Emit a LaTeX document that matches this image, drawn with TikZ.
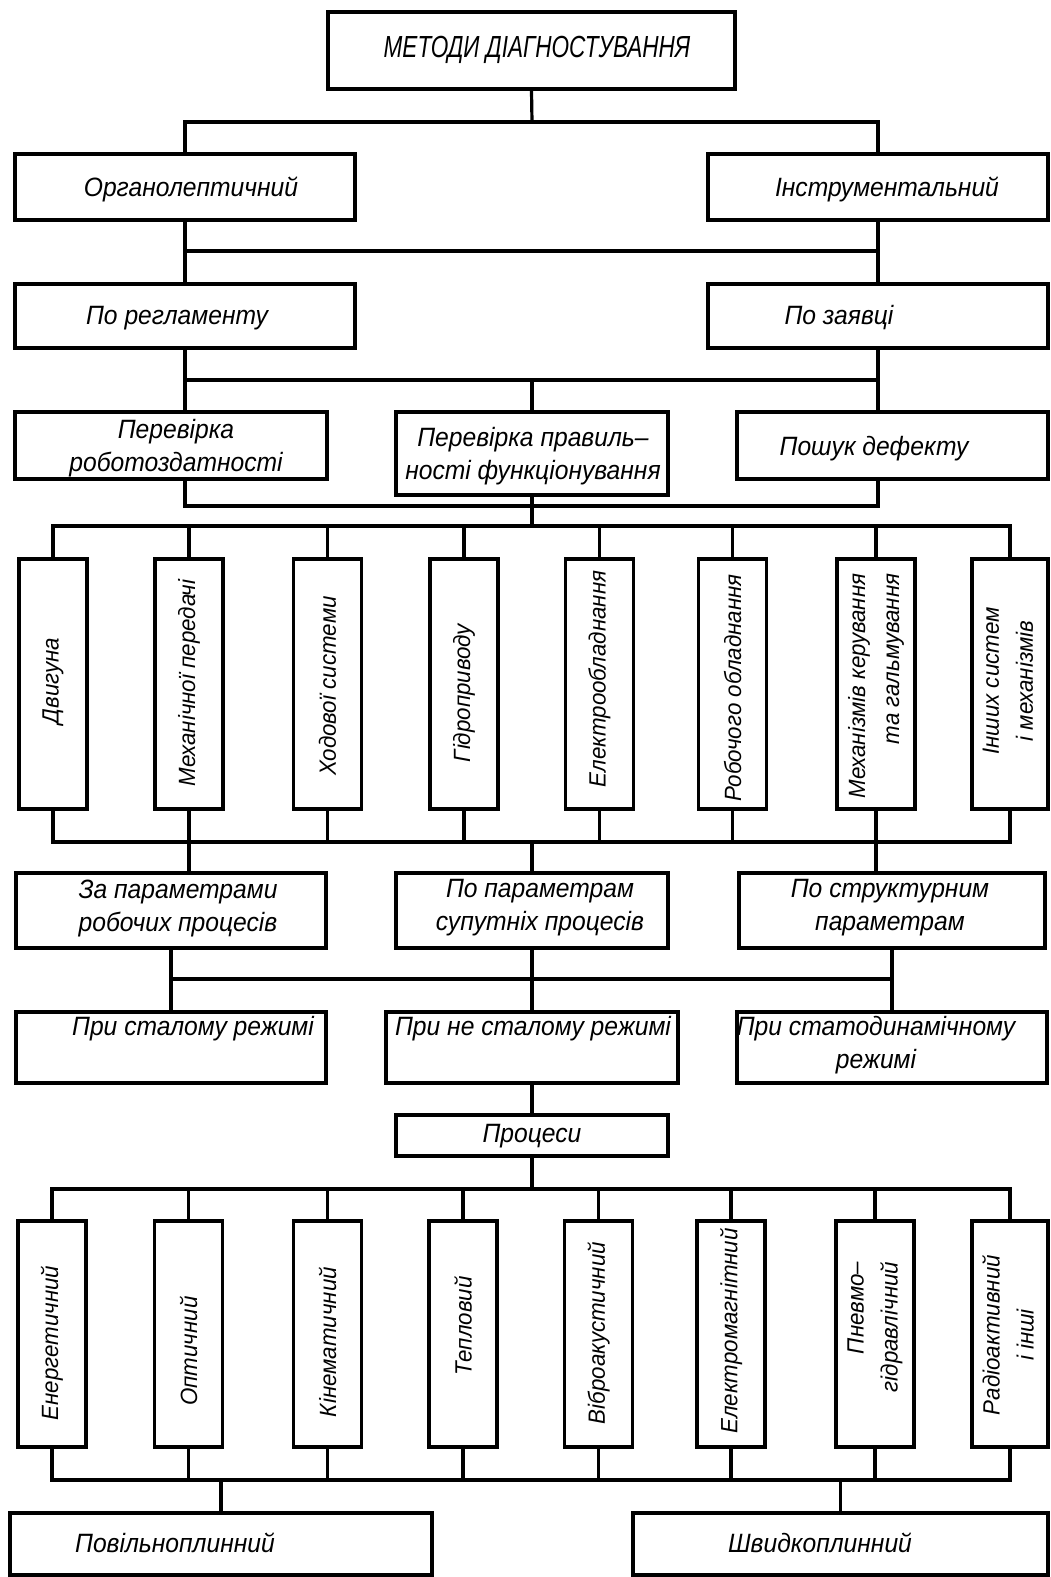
\documentclass[tikz,border=0pt]{standalone}
\usepackage{fontspec}
\newfontfamily\gostH{Liberation Sans}[FakeStretch=0.93]
\newfontfamily\gostV{Liberation Sans}[FakeStretch=0.95]
\newfontfamily\gostT{Liberation Sans}[FakeStretch=0.74]
\begin{document}
\begin{tikzpicture}[x=1pt,y=-1pt,
  box/.style={draw, rectangle, inner sep=0pt, line width=3.2pt},
  conn/.style={line width=3.2pt},
  ht/.style={font=\gostH\itshape\fontsize{26.5}{33}\selectfont, align=center, inner sep=0pt},
  vt/.style={font=\gostV\itshape\fontsize{23.5}{34}\selectfont, align=center, inner sep=0pt, rotate=90},
  tt/.style={font=\gostT\itshape\fontsize{30.5}{36}\selectfont, inner sep=0pt}]
\useasboundingbox (0,0) rectangle (1050,1577);

% ---------- boxes ----------
\node[box, minimum width=407, minimum height=77] (top) at (531.5,50.5) {};
\node[box, minimum width=340, minimum height=66] (org) at (185,187) {};
\node[box, minimum width=340, minimum height=66] (instr) at (878,187) {};
\node[box, minimum width=340, minimum height=64] (reg) at (185,316) {};
\node[box, minimum width=340, minimum height=64] (zay) at (878,316) {};
\node[box, minimum width=312, minimum height=67] (perA) at (171,445.5) {};
\node[box, minimum width=272, minimum height=83] (perB) at (532,453.5) {};
\node[box, minimum width=311, minimum height=67] (posh) at (892.5,445.5) {};

\foreach \n/\x/\w in {a1/53/68, a2/189/68, a3/327.5/68, a4/464/68, a5/599.5/68, a6/732.5/68, a7/876/78, a8/1010/76}
  \node[box, minimum width=\w, minimum height=250] (\n) at (\x,684) {};

\node[box, minimum width=310, minimum height=75] (c1) at (171,910.5) {};
\node[box, minimum width=272, minimum height=75] (c2) at (532,910.5) {};
\node[box, minimum width=306, minimum height=75] (c3) at (892,910.5) {};

\node[box, minimum width=310, minimum height=71] (d1) at (171,1047.5) {};
\node[box, minimum width=292, minimum height=71] (d2) at (532,1047.5) {};
\node[box, minimum width=310, minimum height=71] (d3) at (892,1047.5) {};

\node[box, minimum width=272, minimum height=41] (proc) at (532,1135.5) {};

\foreach \n/\x/\w in {e1/52/68, e2/188.5/68, e3/327.5/68, e4/463/68, e5/598.5/68, e6/731/68, e7/875/78, e8/1010/76}
  \node[box, minimum width=\w, minimum height=226] (\n) at (\x,1334) {};

\node[box, minimum width=422, minimum height=62] (f1) at (221,1544) {};
\node[box, minimum width=415, minimum height=62] (f2) at (840.5,1544) {};

% ---------- connectors ----------
\coordinate (j1) at (532,122);
\coordinate (j2) at (532,251);
\coordinate (j3) at (532,380);
\coordinate (j4) at (532,506);
\coordinate (j5) at (532,526);
\coordinate (j6) at (532,842);
\coordinate (j7) at (532,979);
\coordinate (j8) at (532,1189);
\coordinate (j9) at (532,1480);

\draw[conn] (top.south) -- (j1);
\draw[conn] (org.north) |- (j1) -| (instr.north);

\draw[conn] (org.south) -- (reg.north);
\draw[conn] (instr.south) -- (zay.north);
\draw[conn] (org.south |- j2) -- (instr.south |- j2);

\draw[conn] (reg.south) |- (j3) -| (zay.south);
\draw[conn] (j3) -- (perB.north);
\draw[conn] (reg.south |- j3) -- (reg.south |- perA.north);
\draw[conn] (zay.south |- j3) -- (zay.south |- posh.north);

\draw[conn] (reg.south |- perA.south) |- (j4) -| (zay.south |- posh.south);
\draw[conn] (perB.south) -- (j5);

\draw[conn] (a1.north) |- (j5) -| (a8.north);
\foreach \n in {a2,a3,a4,a5,a6,a7}
  \draw[conn] (\n.north) -- (\n.north |- j5);

\draw[conn] (a1.south) |- (j6) -| (a8.south);
\foreach \n in {a2,a3,a4,a5,a6,a7}
  \draw[conn] (\n.south) -- (\n.south |- j6);
\draw[conn] (a2.south |- j6) -- (a2.south |- c1.north);
\draw[conn] (j6) -- (c2.north);
\draw[conn] (a7.south |- j6) -- (a7.south |- c3.north);

\draw[conn] (c1.south) |- (j7) -| (c3.south);
\draw[conn] (c2.south) -- (d2.north);
\draw[conn] (c1.south |- j7) -- (d1.north);
\draw[conn] (c3.south |- j7) -- (d3.north);

\draw[conn] (d2.south) -- (proc.north);
\draw[conn] (proc.south) -- (j8);
\draw[conn] (e1.north) |- (j8) -| (e8.north);
\foreach \n in {e2,e3,e4,e5,e6,e7}
  \draw[conn] (\n.north) -- (\n.north |- j8);

\draw[conn] (e1.south) |- (j9) -| (e8.south);
\foreach \n in {e2,e3,e4,e5,e6,e7}
  \draw[conn] (\n.south) -- (\n.south |- j9);
\draw[conn] (f1.north) -- (f1.north |- j9);
\draw[conn] (f2.north) -- (f2.north |- j9);

% ---------- texts ----------
\node[tt] (ttop) at (537,50) {МЕТОДИ ДІАГНОСТУВАННЯ};
\node[ht] (torg) at (191,189) {Органолептичний};
\node[ht] (tinstr) at (887,189) {Інструментальний};
\node[ht] (treg) at (177,318) {По регламенту};
\node[ht] (tzay) at (839,318) {По заявці};
\node[ht] (tperA) at (176,448) {Перевірка\\роботоздатності};
\node[ht] (tperB) at (533,456) {Перевірка правиль–\\ності функціонування};
\node[ht] (tposh) at (874,449) {Пошук дефекту};

\node[vt] (ta1) at (53,681) {Двигуна};
\node[vt] (ta2) at (189,683) {Механічної передачі};
\node[vt] (ta3) at (327.5,686) {Ходової системи};
\node[vt] (ta4) at (464,693) {Гідроприводу};
\node[vt] (ta5) at (599.5,679) {Електрообладнання};
\node[vt] (ta6) at (732.5,688) {Робочого обладнання};
\node[vt, align=right] (ta7) at (876,686) {Механізмів керування\\та гальмування};
\node[vt] (ta8) at (1008,681) {Інших систем\\і механізмів};

\node[ht] (tc1) at (178,908) {За параметрами\\робочих процесів};
\node[ht] (tc2) at (540,908) {По параметрам\\супутніх процесів};
\node[ht] (tc3) at (890,908) {По структурним\\параметрам};

\node[ht, anchor=north] (td1) at (193,1016) {При сталому режимі};
\node[ht, anchor=north] (td2) at (533,1016) {При не сталому режимі};
\node[ht, anchor=north] (td3) at (876,1016) {При статодинамічному\\режимі};

\node[ht] (tproc) at (532,1136) {Процеси};

\node[vt] (te1) at (52,1343) {Енергетичний};
\node[vt] (te2) at (188.5,1351) {Оптичний};
\node[vt] (te3) at (327.5,1342) {Кінематичний};
\node[vt] (te4) at (463,1326) {Тепловий};
\node[vt] (te5) at (598.5,1333) {Віброакустичний};
\node[vt] (te6) at (731,1331) {Електромагнітний};
\node[vt, align=right] (te7) at (875,1327) {Пневмо–\\гідравлічний};
\node[vt] (te8) at (1008,1335) {Радіоактивний\\і інші};

\node[ht] (tf1) at (175,1543) {Повільноплинний};
\node[ht] (tf2) at (820,1543) {Швидкоплинний};
\end{tikzpicture}
\end{document}
